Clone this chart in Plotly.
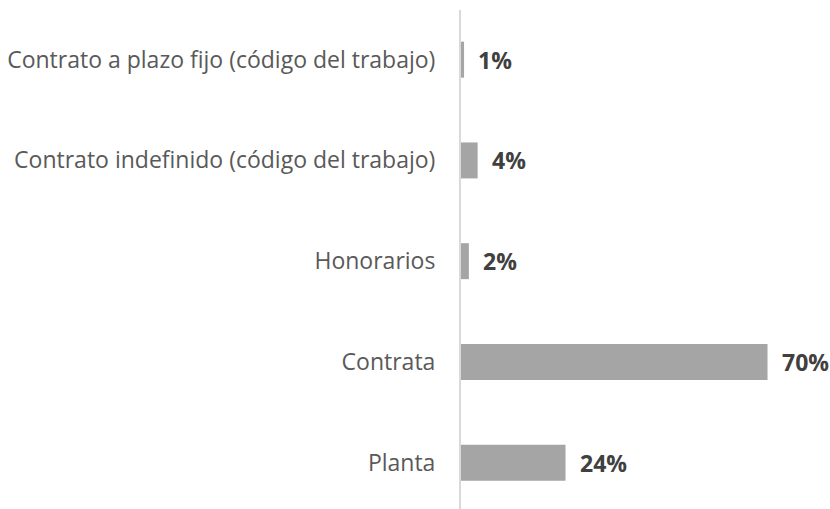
import plotly.graph_objects as go

categories = ["Planta", "Contrata", "Honorarios",
              "Contrato indefinido (código del trabajo)",
              "Contrato a plazo fijo (código del trabajo)"]
values = [23.9, 70.1, 1.8, 3.8, 0.7]
labels = ["24%", "70%", "2%", "4%", "1%"]

fig = go.Figure()
fig.add_trace(go.Bar(
    y=categories, x=values, orientation="h",
    marker=dict(color="#A5A5A5", line=dict(width=0)),
    hoverinfo="skip",
))

for c, v, t in zip(categories, values, labels):
    fig.add_annotation(x=v, y=c, text=t, showarrow=False,
                       xanchor="left", yanchor="middle", xshift=12,
                       font=dict(family="Open Sans", size=23, color="#404040", weight="bold"))

fig.update_layout(
    width=830, height=509,
    margin=dict(l=461, r=10, t=10, b=0),
    paper_bgcolor="white", plot_bgcolor="white",
    showlegend=False, bargap=0.643,
    font=dict(family="Open Sans", size=23, color="#595959"),
)
fig.update_xaxes(range=[0, 82.1], visible=False, showgrid=False, zeroline=False)
fig.update_yaxes(range=[-0.46, 4.493], showline=True, linecolor="#D9D9D9", linewidth=2,
                 showgrid=False, zeroline=False, ticks="", ticklabelstandoff=19,
                 tickfont=dict(family="Open Sans", size=23, color="#595959"))

fig.write_html("out.html", config={"displayModeBar": False},
               post_script="document.body.style.margin='0';document.body.style.overflow='hidden';")
